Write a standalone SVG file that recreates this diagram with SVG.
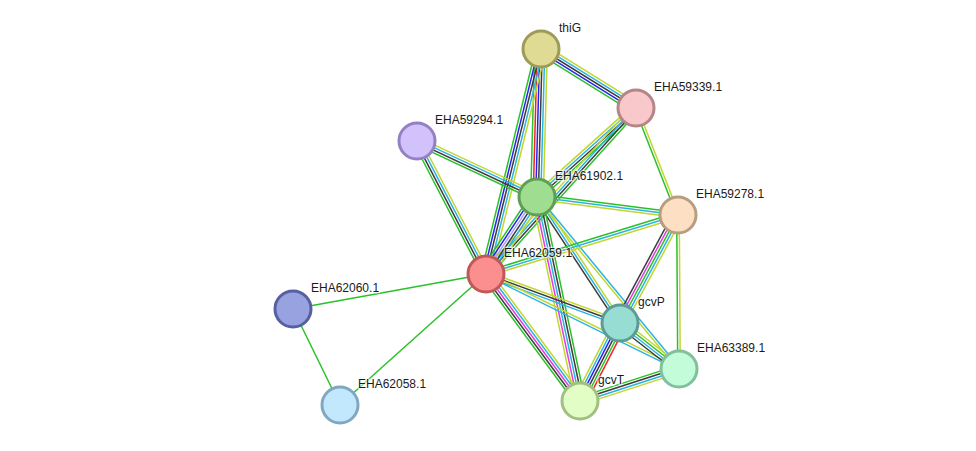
<svg xmlns="http://www.w3.org/2000/svg" width="976" height="451" viewBox="0 0 976 451">
<style>
line{stroke-width:1.5;fill:none;vector-effect:non-scaling-stroke}
.G{stroke:#2ac12a}.Y{stroke:#c2d630}.K{stroke:#3c3c3c}.C{stroke:#2bb4e0}.M{stroke:#e03ce0}.B{stroke:#2424f0}.R{stroke:#f02424}.P{stroke:#a8a0f8}
.n circle{stroke-width:3}
text{font-family:"Liberation Sans",Arial,sans-serif;font-size:12px;fill:#1a1a1a;stroke:#fff;stroke-width:2.5;stroke-opacity:0.6;paint-order:stroke}
</style>
<rect width="976" height="451" fill="#fff"/>
<g id="connectors">
<g transform="translate(541,49) rotate(31.84) scale(1,1.15)"><line x2="111.8" y1="-4.4" y2="-4.4" class="Y"/><line x2="111.8" y1="-2.2" y2="-2.2" class="C"/><line x2="111.8" class="K"/><line x2="111.8" y1="2.2" y2="2.2" class="B"/><line x2="111.8" y1="4.4" y2="4.4" class="G"/></g>
<g transform="translate(541,49) rotate(91.55) scale(1,1.15)"><line x2="148" y1="-5.5" y2="-5.5" class="Y"/><line x2="148" y1="-3.3" y2="-3.3" class="C"/><line x2="148" y1="-1.1" y2="-1.1" class="K"/><line x2="148" y1="1.1" y2="1.1" class="B"/><line x2="148" y1="3.3" y2="3.3" class="R"/><line x2="148" y1="5.5" y2="5.5" class="G"/></g>
<g transform="translate(541,49) rotate(103.74) scale(1,1.15)"><line x2="231.6" y1="-4.4" y2="-4.4" class="Y"/><line x2="231.6" y1="-2.2" y2="-2.2" class="C"/><line x2="231.6" class="K"/><line x2="231.6" y1="2.2" y2="2.2" class="B"/><line x2="231.6" y1="4.4" y2="4.4" class="G"/></g>
<g transform="translate(636,108) rotate(138.04) scale(1,1.15)"><line x2="133.1" y1="-3.3" y2="-3.3" class="G"/><line x2="133.1" y1="-1.1" y2="-1.1" class="K"/><line x2="133.1" y1="1.1" y2="1.1" class="C"/><line x2="133.1" y1="3.3" y2="3.3" class="Y"/></g>
<g transform="translate(636,108) rotate(132.1) scale(1,1.15)"><line x2="223.7" y1="-3.3" y2="-3.3" class="G"/><line x2="223.7" y1="-1.1" y2="-1.1" class="K"/><line x2="223.7" y1="1.1" y2="1.1" class="C"/><line x2="223.7" y1="3.3" y2="3.3" class="Y"/></g>
<g transform="translate(636,108) rotate(68.57) scale(1,1.15)"><line x2="114.9" y1="-1.1" y2="-1.1" class="Y"/><line x2="114.9" y1="1.1" y2="1.1" class="G"/></g>
<g transform="translate(417,141) rotate(25.02) scale(1,1.15)"><line x2="132.4" y1="-3.3" y2="-3.3" class="Y"/><line x2="132.4" y1="-1.1" y2="-1.1" class="C"/><line x2="132.4" y1="1.1" y2="1.1" class="K"/><line x2="132.4" y1="3.3" y2="3.3" class="G"/></g>
<g transform="translate(417,141) rotate(62.58) scale(1,1.15)"><line x2="149.8" y1="-3.3" y2="-3.3" class="Y"/><line x2="149.8" y1="-1.1" y2="-1.1" class="C"/><line x2="149.8" y1="1.1" y2="1.1" class="K"/><line x2="149.8" y1="3.3" y2="3.3" class="G"/></g>
<g transform="translate(537,197) rotate(7.27) scale(1,1.15)"><line x2="142.1" y1="-2.2" y2="-2.2" class="G"/><line x2="142.1" class="C"/><line x2="142.1" y1="2.2" y2="2.2" class="Y"/></g>
<g transform="translate(537,197) rotate(123.52) scale(1,1.15)"><line x2="92.4" y1="-5.5" y2="-5.5" class="Y"/><line x2="92.4" y1="-3.3" y2="-3.3" class="C"/><line x2="92.4" y1="-1.1" y2="-1.1" class="K"/><line x2="92.4" y1="1.1" y2="1.1" class="P"/><line x2="92.4" y1="3.3" y2="3.3" class="B"/><line x2="92.4" y1="5.5" y2="5.5" class="G"/></g>
<g transform="translate(537,197) rotate(56.62) scale(1,1.15)"><line x2="150.9" y1="-2.2" y2="-2.2" class="Y"/><line x2="150.9" class="C"/><line x2="150.9" y1="2.2" y2="2.2" class="K"/></g>
<g transform="translate(537,197) rotate(50.46) scale(1,1.15)"><line x2="223" y1="-1.1" y2="-1.1" class="C"/><line x2="223" y1="1.1" y2="1.1" class="Y"/></g>
<g transform="translate(537,197) rotate(78.1) scale(1,1.15)"><line x2="208.5" y1="-4.4" y2="-4.4" class="G"/><line x2="208.5" y1="-2.2" y2="-2.2" class="K"/><line x2="208.5" class="C"/><line x2="208.5" y1="2.2" y2="2.2" class="M"/><line x2="208.5" y1="4.4" y2="4.4" class="Y"/></g>
<g transform="translate(486,274) rotate(-17.08) scale(1,1.15)"><line x2="200.9" y1="-2.2" y2="-2.2" class="G"/><line x2="200.9" class="C"/><line x2="200.9" y1="2.2" y2="2.2" class="Y"/></g>
<g transform="translate(486,274) rotate(20.09) scale(1,1.15)"><line x2="142.7" y1="-2.2" y2="-2.2" class="Y"/><line x2="142.7" class="K"/><line x2="142.7" y1="2.2" y2="2.2" class="C"/></g>
<g transform="translate(486,274) rotate(26.21) scale(1,1.15)"><line x2="215.1" y1="-1.1" y2="-1.1" class="Y"/><line x2="215.1" y1="1.1" y2="1.1" class="C"/></g>
<g transform="translate(486,274) rotate(53.5) scale(1,1.15)"><line x2="158" y1="-4.4" y2="-4.4" class="Y"/><line x2="158" y1="-2.2" y2="-2.2" class="C"/><line x2="158" class="M"/><line x2="158" y1="2.2" y2="2.2" class="K"/><line x2="158" y1="4.4" y2="4.4" class="G"/></g>
<g transform="translate(486,274) rotate(169.72)"><line x2="196.1" class="G"/></g>
<g transform="translate(486,274) rotate(138.1)"><line x2="196.2" class="G"/></g>
<g transform="translate(293,309) rotate(63.9)"><line x2="106.9" class="G"/></g>
<g transform="translate(678,215) rotate(118.24) scale(1,1.15)"><line x2="122.6" y1="-4.4" y2="-4.4" class="Y"/><line x2="122.6" y1="-2.2" y2="-2.2" class="C"/><line x2="122.6" class="G"/><line x2="122.6" y1="2.2" y2="2.2" class="M"/><line x2="122.6" y1="4.4" y2="4.4" class="K"/></g>
<g transform="translate(678,215) rotate(89.63) scale(1,1.15)"><line x2="154" y1="-1.1" y2="-1.1" class="Y"/><line x2="154" y1="1.1" y2="1.1" class="G"/></g>
<g transform="translate(620,323) rotate(37.94) scale(1,1.15)"><line x2="74.8" y1="-3.3" y2="-3.3" class="Y"/><line x2="74.8" y1="-1.1" y2="-1.1" class="G"/><line x2="74.8" y1="1.1" y2="1.1" class="C"/><line x2="74.8" y1="3.3" y2="3.3" class="K"/></g>
<g transform="translate(620,323) rotate(117.15) scale(1,1.15)"><line x2="87.7" y1="-5.5" y2="-5.5" class="R"/><line x2="87.7" y1="-3.3" y2="-3.3" class="G"/><line x2="87.7" y1="-1.1" y2="-1.1" class="K"/><line x2="87.7" y1="1.1" y2="1.1" class="B"/><line x2="87.7" y1="3.3" y2="3.3" class="C"/><line x2="87.7" y1="5.5" y2="5.5" class="Y"/></g>
<g transform="translate(679,369) rotate(162.09) scale(1,1.15)"><line x2="104" y1="-3.3" y2="-3.3" class="Y"/><line x2="104" y1="-1.1" y2="-1.1" class="C"/><line x2="104" y1="1.1" y2="1.1" class="K"/><line x2="104" y1="3.3" y2="3.3" class="G"/></g>
</g>
<g id="thiG" class="n"><circle cx="541" cy="49" r="18" fill="#dfdb94" stroke="#9e9a58"/><text x="559" y="32">thiG</text></g>
<g id="EHA59339.1" class="n"><circle cx="636" cy="108" r="18" fill="#f8c8ca" stroke="#b48688"/><text x="654" y="91">EHA59339.1</text></g>
<g id="EHA59294.1" class="n"><circle cx="417" cy="141" r="18" fill="#d2c2fb" stroke="#9480c4"/><text x="435" y="124">EHA59294.1</text></g>
<g id="EHA61902.1" class="n"><circle cx="537" cy="197" r="18" fill="#9fdd91" stroke="#5f9e54"/><text x="555" y="180">EHA61902.1</text></g>
<g id="EHA59278.1" class="n"><circle cx="678" cy="215" r="18" fill="#fde0c4" stroke="#b89e80"/><text x="696" y="198">EHA59278.1</text></g>
<g id="EHA62059.1" class="n"><circle cx="486" cy="274" r="18" fill="#fb8e8e" stroke="#c05858"/><text x="504" y="257">EHA62059.1</text></g>
<g id="EHA62060.1" class="n"><circle cx="293" cy="309" r="18" fill="#98a2e0" stroke="#5660a0"/><text x="311" y="292">EHA62060.1</text></g>
<g id="gcvP" class="n"><circle cx="620" cy="323" r="18" fill="#98ddd4" stroke="#5c9c94"/><text x="638" y="306">gcvP</text></g>
<g id="EHA63389.1" class="n"><circle cx="679" cy="369" r="18" fill="#c2fcd8" stroke="#80c09a"/><text x="697" y="352">EHA63389.1</text></g>
<g id="gcvT" class="n"><circle cx="580" cy="401" r="18" fill="#e2fec6" stroke="#a2c082"/><text x="598" y="384">gcvT</text></g>
<g id="EHA62058.1" class="n"><circle cx="340" cy="405" r="18" fill="#c2e8fd" stroke="#80a8c0"/><text x="358" y="388">EHA62058.1</text></g>
</svg>
